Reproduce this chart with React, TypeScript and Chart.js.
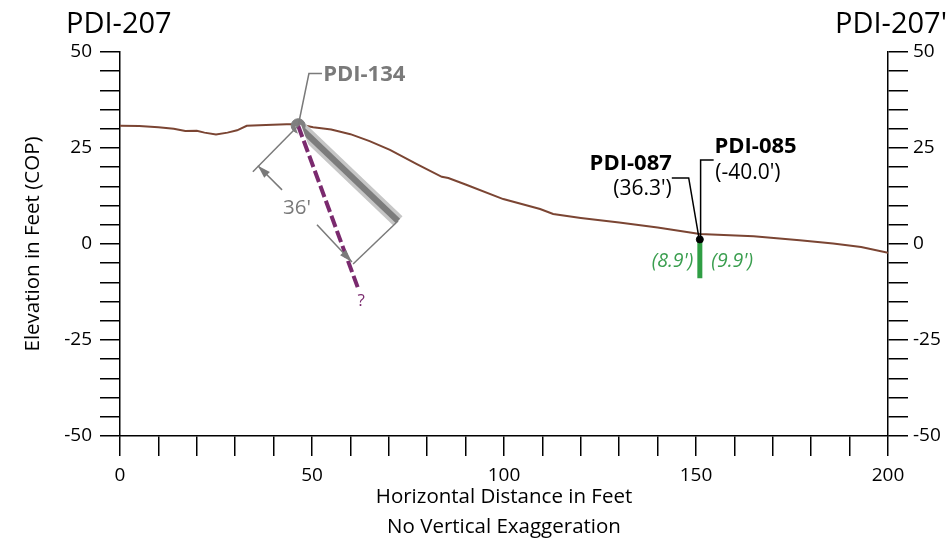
import React, { useEffect, useRef } from 'react';
import { Chart, registerables } from 'chart.js';

Chart.register(...registerables);

// ---- Data (feet) ----
const groundDist = [0, 5, 10, 14, 17, 20, 22, 25, 28, 30.5, 33, 38, 43.4, 46.5, 50.3, 55, 60, 65, 70.3, 77.3, 83.8, 85.5, 90, 99.8, 109.4, 112.8, 120, 130, 140, 151, 165, 177, 185.7, 193, 200];
const groundElev = [30.8, 30.7, 30.4, 30.0, 29.4, 29.5, 29.0, 28.5, 29.0, 29.6, 30.8, 31.0, 31.2, 31.2, 30.4, 29.8, 28.6, 26.8, 24.5, 20.8, 17.5, 17.2, 15.5, 11.7, 9.1, 7.8, 6.8, 5.6, 4.3, 2.6, 2.0, 1.0, 0.1, -0.8, -2.3];

const pdi134Dist = [46.4, 72.4];
const pdi134Elev = [30.8, 6.0];
const pdi134ProjDist = [46.4, 62.1];
const pdi134ProjElev = [30.8, -11.8];

const pdi085Dist = [151, 151];
const pdi085Elev = [1.2, -8.9];

const xTickLabels = [0, 50, 100, 150, 200];
const yTickLabels = [-50, -25, 0, 25, 50];

const leftTitle = 'PDI-207';
const rightTitle = "PDI-207'";
const yTitle = 'Elevation in Feet (COP)';
const xTitleLines = ['Horizontal Distance in Feet', 'No Vertical Exaggeration'];

// Annotation anchors (data units)
const pdi134LeaderDist = [46.4, 49.2, 52.6];
const pdi134LeaderElev = [30.8, 44.4, 44.4];
const pdi085LeaderDist = [151.2, 151.2, 154.6];
const pdi085LeaderElev = [1.5, 21.9, 21.9];
const pdi087LeaderDist = [150.7, 148.1, 143.7];
const pdi087LeaderElev = [2.0, 17.2, 17.2];
const dimExt1Dist = [46.4, 34.6];
const dimExt1Elev = [30.8, 18.8];
const dimExt2Dist = [72.4, 60.7];
const dimExt2Elev = [6.0, -5.2];
const dimA_Dist = [42.2, 35.9];
const dimA_Elev = [14.1, 20.4];
const dimB_Dist = [51.3, 60.4];
const dimB_Elev = [5.0, -4.7];
const dimLabel = "36'";
const dimLabelPos = [46.1, 9.4];

const FONT = '"Open Sans", sans-serif';

const pts = (xs: number[], ys: number[]) => xs.map((x, i) => ({ x, y: ys[i] }));

const overlay = {
  id: 'overlay',
  afterDatasetsDraw(chart: any) {
    const { ctx, scales } = chart;
    const X = (v: number) => scales.x.getPixelForValue(v);
    const Y = (v: number) => scales.y.getPixelForValue(v);
    const poly = (xs: number[], ys: number[], color: string, w: number) => {
      ctx.save();
      ctx.strokeStyle = color;
      ctx.lineWidth = w;
      ctx.beginPath();
      xs.forEach((d, i) => {
        if (i === 0) ctx.moveTo(X(d), Y(ys[i]));
        else ctx.lineTo(X(d), Y(ys[i]));
      });
      ctx.stroke();
      ctx.restore();
    };
    const arrow = (xs: number[], ys: number[], color: string) => {
      const x0 = X(xs[0]), y0 = Y(ys[0]), x1 = X(xs[1]), y1 = Y(ys[1]);
      const a = Math.atan2(y1 - y0, x1 - x0);
      const L = 13, H = 4;
      ctx.save();
      ctx.fillStyle = color;
      ctx.beginPath();
      ctx.moveTo(x1, y1);
      ctx.lineTo(x1 - L * Math.cos(a) + H * Math.sin(a), y1 - L * Math.sin(a) - H * Math.cos(a));
      ctx.lineTo(x1 - L * Math.cos(a) - H * Math.sin(a), y1 - L * Math.sin(a) + H * Math.cos(a));
      ctx.closePath();
      ctx.fill();
      ctx.restore();
    };
    const text = (s: string, xv: number, yv: number, font: string, color: string, align: CanvasTextAlign) => {
      ctx.save();
      ctx.font = font;
      ctx.fillStyle = color;
      ctx.textAlign = align;
      ctx.textBaseline = 'middle';
      ctx.fillText(s, X(xv), Y(yv));
      ctx.restore();
    };

    const gray = '#7a7a7a';
    poly(dimExt1Dist, dimExt1Elev, gray, 1.5);
    poly(dimExt2Dist, dimExt2Elev, gray, 1.5);
    poly(dimA_Dist, dimA_Elev, gray, 1.5);
    poly(dimB_Dist, dimB_Elev, gray, 1.5);
    arrow(dimA_Dist, dimA_Elev, gray);
    arrow(dimB_Dist, dimB_Elev, gray);
    text(dimLabel, dimLabelPos[0], dimLabelPos[1], `20.5px ${FONT}`, gray, 'center');

    poly(pdi134LeaderDist, pdi134LeaderElev, gray, 1.5);
    text('PDI-134', 52.9, 44.2, `bold 22px ${FONT}`, gray, 'left');

    poly(pdi085LeaderDist, pdi085LeaderElev, '#000', 1.5);
    poly(pdi087LeaderDist, pdi087LeaderElev, '#000', 1.5);
    text('PDI-085', 154.8, 25.4, `bold 22px ${FONT}`, '#000', 'left');
    text("(-40.0')", 155.0, 18.5, `21px ${FONT}`, '#000', 'left');
    text('PDI-087', 143.7, 20.9, `bold 22px ${FONT}`, '#000', 'right');
    text("(36.3')", 143.7, 14.3, `21px ${FONT}`, '#000', 'right');

    const green = '#3a9e4f';
    text("(8.9')", 149.3, -4.6, `italic 19.5px ${FONT}`, green, 'right');
    text("(9.9')", 154.0, -4.6, `italic 19.5px ${FONT}`, green, 'left');

    text('?', 62.8, -14.8, `17px ${FONT}`, '#7a2a6e', 'center');
  },
  afterDraw(chart: any) {
    const { ctx, chartArea } = chart;
    ctx.save();
    ctx.fillStyle = '#000';
    ctx.textBaseline = 'middle';
    ctx.font = `29px ${FONT}`;
    ctx.textAlign = 'left';
    ctx.fillText(leftTitle, 66, 25);
    ctx.textAlign = 'right';
    ctx.fillText(rightTitle, 947, 25);

    ctx.font = `20.5px ${FONT}`;
    ctx.textAlign = 'center';
    const cx = (chartArea.left + chartArea.right) / 2;
    ctx.fillText(xTitleLines[0], cx, 497);
    ctx.fillText(xTitleLines[1], cx, 527);

    ctx.translate(33, (chartArea.top + chartArea.bottom) / 2);
    ctx.rotate(-Math.PI / 2);
    ctx.fillText(yTitle, 0, 0);
    ctx.restore();
  },
};

export default function App() {
  const ref = useRef<HTMLCanvasElement>(null);
  useEffect(() => {
    if (!ref.current) return;
    const tickFont = { family: FONT, size: 19 };
    const grid = { drawOnChartArea: false, drawTicks: true, tickLength: 20, color: '#000', lineWidth: 1.5 };
    const border = { display: true, color: '#000', width: 1.5 };
    const yTicks = (padding: number) => ({
      stepSize: 5,
      autoSkip: false,
      font: tickFont,
      color: '#000',
      padding,
      callback: (v: any) => (yTickLabels.includes(Number(v)) ? String(v) : ''),
    });
    const chart = new Chart(ref.current, {
      type: 'scatter',
      data: {
        datasets: [
          { data: pts(groundDist, groundElev), showLine: true, borderColor: '#7b4533', borderWidth: 2, pointRadius: 0, order: 9 },
          { data: pts(pdi134Dist, pdi134Elev), showLine: true, borderColor: '#c6c6c6', borderWidth: 13, borderCapStyle: 'butt', pointRadius: 0, order: 8 },
          { data: pts(pdi134Dist, pdi134Elev), showLine: true, borderColor: '#7c7c7c', borderWidth: 6, borderCapStyle: 'butt', pointRadius: 0, order: 7 },
          { data: pts([pdi134Dist[0]], [pdi134Elev[0]]), pointRadius: 7, backgroundColor: '#7f7f7f', borderColor: '#7f7f7f', order: 6 },
          { data: pts(pdi134ProjDist, pdi134ProjElev), showLine: true, borderColor: '#ffffff', borderWidth: 6, pointRadius: 0, order: 5 },
          { data: pts(pdi134ProjDist, pdi134ProjElev), showLine: true, borderColor: '#7a2a6e', borderWidth: 4, borderDash: [12, 4], borderCapStyle: 'butt', pointRadius: 0, order: 4 },
          { data: pts(pdi085Dist, pdi085Elev), showLine: true, borderColor: '#2f9e44', borderWidth: 5, borderCapStyle: 'butt', pointRadius: 0, order: 3 },
          { data: pts([pdi085Dist[0]], [pdi085Elev[0]]), pointRadius: 3.5, backgroundColor: '#000', borderColor: '#000', order: 2 },
        ] as any,
      },
      options: {
        responsive: false,
        animation: false,
        devicePixelRatio: 1,
        layout: { padding: { top: 52, left: 0, right: 0, bottom: 0 } },
        plugins: { legend: { display: false }, tooltip: { enabled: false } },
        scales: {
          x: {
            type: 'linear',
            min: 0,
            max: 200,
            ticks: {
              stepSize: 10,
              autoSkip: false,
              maxRotation: 0,
              font: tickFont,
              color: '#000',
              padding: 8,
              callback: (v: any) => (xTickLabels.includes(Number(v)) ? String(v) : ''),
            },
            grid,
            border,
            afterFit: (s: any) => { s.height = 109; },
          },
          y: {
            type: 'linear',
            position: 'left',
            min: -50,
            max: 50,
            ticks: yTicks(8),
            grid,
            border,
            afterFit: (s: any) => { s.width = 120; },
          },
          y2: {
            type: 'linear',
            position: 'right',
            min: -50,
            max: 50,
            ticks: yTicks(5),
            grid,
            border,
            afterFit: (s: any) => { s.width = 60; },
          },
        },
      } as any,
      plugins: [overlay],
    });
    return () => chart.destroy();
  }, []);
  return (
    <div style={{ position: 'fixed', left: 0, top: 0, width: 948, height: 545, background: '#fff' }}>
      <canvas ref={ref} width={948} height={545} />
    </div>
  );
}
